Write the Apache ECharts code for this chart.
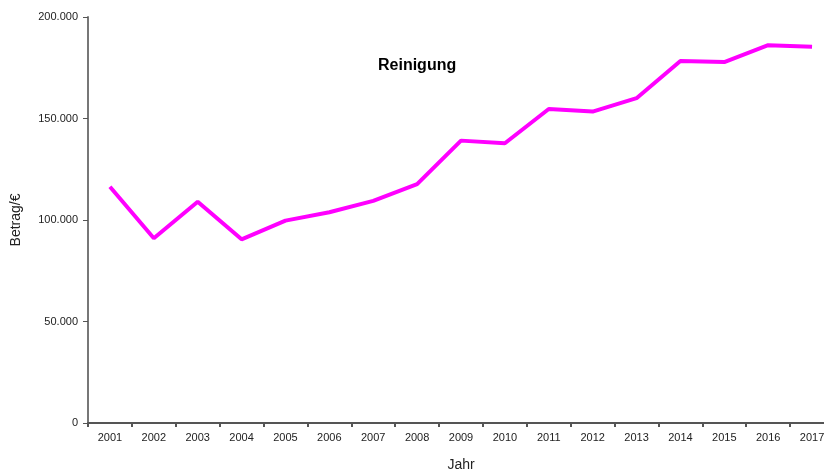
<!DOCTYPE html>
<html>
<head>
<meta charset="utf-8">
<style>
  html, body { margin: 0; padding: 0; background: #fff; }
  #chart { width: 824px; height: 471px; }
</style>
<script src="https://cdn.jsdelivr.net/npm/echarts@6/dist/echarts.min.js"></script>
</head>
<body>
<div id="chart"></div>
<script>
// Jahre
var years = ['2001', '2002', '2003', '2004', '2005', '2006', '2007', '2008', '2009',
             '2010', '2011', '2012', '2013', '2014', '2015', '2016', '2017'];
// Reinigung, Betrag in Euro
var reinigung = [116400, 91000, 109000, 90500, 99700, 103800, 109400, 117700, 139100,
                 137800, 154700, 153400, 160000, 178300, 177800, 186100, 185400];

// 200000 -> "200.000"
function formatDe(v){
    return String(v).replace(/\B(?=(\d{3})+(?!\d))/g, '.');
}

var myChart = echarts.init(document.getElementById('chart'));
var option = {
    animation: false,
    title: {
        text: 'Reinigung',
        left: 373,
        top: 53,
        textStyle: { fontFamily: 'Liberation Sans', fontSize: 16, fontWeight: 'bold', color: '#000' }
    },
    // Zeichenfläche geht rechts über den Rand hinaus (wie im Original)
    grid: { left: 88, top: 17, width: 746, bottom: 48, containLabel: false, outerBoundsMode: 'none' },
    xAxis: {
        type: 'category',
        data: years,
        boundaryGap: true,
        name: 'Jahr',
        nameLocation: 'middle',
        nameGap: 35,
        nameTextStyle: { fontFamily: 'Liberation Sans', fontSize: 14, color: '#222' },
        axisLine: { lineStyle: { color: '#555', width: 2 } },
        axisTick: { show: true, length: 4, lineStyle: { color: '#555', width: 2 } },
        axisLabel: { fontFamily: 'Liberation Sans', fontSize: 11, color: '#222', margin: 9, interval: 0 },
        splitLine: { show: false }
    },
    yAxis: {
        type: 'value',
        min: 0,
        max: 200000,
        interval: 50000,
        name: 'Betrag/€',
        nameLocation: 'middle',
        nameGap: 65,
        nameTextStyle: { fontFamily: 'Liberation Sans', fontSize: 14, color: '#222' },
        axisLine: { show: true, lineStyle: { color: '#777', width: 2 } },
        axisTick: { show: true, length: 5, lineStyle: { color: '#555', width: 1 } },
        axisLabel: { fontFamily: 'Liberation Sans', fontSize: 11, color: '#222', margin: 10, formatter: formatDe },
        splitLine: { show: false }
    },
    series: [{
        name: 'Reinigung',
        type: 'line',
        data: reinigung,
        symbol: 'none',
        lineStyle: { color: '#ff00ff', width: 4 },
        itemStyle: { color: '#ff00ff' }
    }]
};
myChart.setOption(option);
</script>
</body>
</html>
